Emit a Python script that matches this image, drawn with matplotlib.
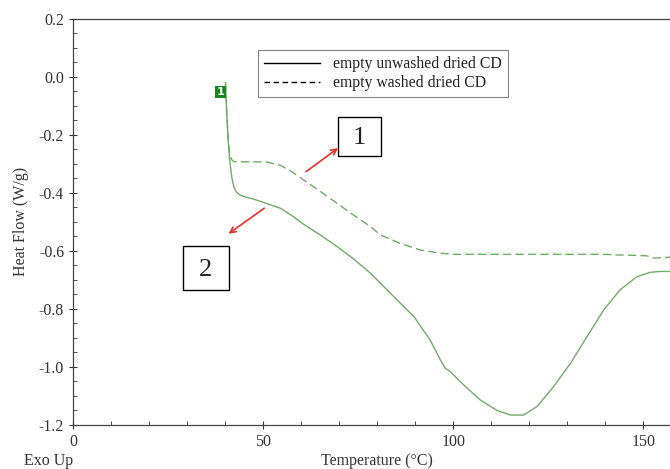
import matplotlib
matplotlib.use("Agg")
import matplotlib.pyplot as plt
from matplotlib.lines import Line2D
from matplotlib.patches import Rectangle
from matplotlib.ticker import MultipleLocator, FuncFormatter

plt.rcParams["font.family"] = ["Liberation Serif", "DejaVu Serif"]

# curve 2: empty unwashed dried CD
unwashed_T = [40.1, 40.4, 40.8, 41.3, 41.8, 42.3, 43.0, 44.0, 45.5, 47.0, 49.0, 51.0,
              54.5, 57.5, 60.6, 65.0, 69.4, 73.8, 78.2, 80.8, 85.2, 89.6, 93.9, 96.6,
              97.9, 99.2, 102.7, 107.1, 111.5, 115.0, 118.5, 122.0, 126.4, 130.8,
              135.2, 139.6, 143.9, 148.3, 151.8, 154.5, 157.0]
unwashed_HF = [-0.02, -0.12, -0.22, -0.30, -0.35, -0.38, -0.398, -0.408, -0.415, -0.42,
               -0.428, -0.437, -0.453, -0.478, -0.508, -0.545, -0.585, -0.628, -0.677,
               -0.711, -0.769, -0.826, -0.907, -0.976, -1.005, -1.016, -1.062, -1.114,
               -1.15, -1.166, -1.166, -1.137, -1.068, -0.988, -0.895, -0.803, -0.734,
               -0.689, -0.674, -0.671, -0.671]

# curve 1: empty washed dried CD
washed_T = [40.1, 40.4, 40.8, 41.2, 41.7, 42.2, 44.0, 47.0, 51.0, 54.5, 57.5, 60.6,
            65.0, 69.4, 73.8, 78.2, 80.8, 86.0, 91.3, 96.6, 100.0, 110.0, 120.0, 130.0,
            140.4, 142.2, 146.5, 150.9, 152.7, 157.0]
washed_HF = [-0.02, -0.12, -0.21, -0.265, -0.285, -0.292, -0.293, -0.293, -0.294, -0.305,
             -0.327, -0.355, -0.395, -0.436, -0.477, -0.516, -0.545, -0.574, -0.597,
             -0.608, -0.612, -0.612, -0.612, -0.612, -0.612, -0.614, -0.615, -0.617,
             -0.625, -0.622]

line_color = "#70ac68"
text_color = "#333333"

fig = plt.figure(figsize=(6.7, 4.69), dpi=100)
ax = fig.add_axes([0.109, 0.094, 0.891, 0.866])

ax.plot(unwashed_T, unwashed_HF, color=line_color, lw=1.0)
ax.plot(washed_T, washed_HF, color=line_color, lw=1.0, linestyle=(0, (6, 3)))

ax.set_xlim(0, 157)
ax.set_ylim(-1.2, 0.2)
ax.xaxis.set_major_locator(MultipleLocator(50))
ax.xaxis.set_minor_locator(MultipleLocator(10))
ax.yaxis.set_major_locator(MultipleLocator(0.2))
ax.yaxis.set_minor_locator(MultipleLocator(0.05))
ax.yaxis.set_major_formatter(FuncFormatter(lambda v, p: f"{v:.1f}"))
ax.tick_params(which="major", direction="inout", length=6, width=0.8,
               labelsize=11.5, colors=text_color, labelcolor=text_color)
ax.tick_params(which="minor", direction="in", length=3, width=0.6, colors=text_color)
ax.spines["right"].set_visible(False)
for s in ["left", "bottom", "top"]:
    ax.spines[s].set_color("#444444")
    ax.spines[s].set_linewidth(0.9)

ax.set_ylabel("Heat Flow (W/g)", fontsize=11.5, color=text_color, labelpad=7)
fig.text(0.563, 0.017, "Temperature (°C)", fontsize=11.5, color=text_color,
         ha="center", va="center")
fig.text(0.073, 0.017, "Exo Up", fontsize=11.5, color=text_color,
         ha="center", va="center")

# small green marker label
ax.text(38.8, -0.053, "1", fontsize=8, color="white", fontweight="bold",
        family="DejaVu Sans", ha="center", va="center",
        bbox=dict(boxstyle="square,pad=0.12", fc="#15871f", ec="none"))

handles = [Line2D([], [], color="black", lw=1.0),
           Line2D([], [], color="black", lw=1.0, linestyle=(0, (4, 2.5)))]
leg = ax.legend(handles, ["empty unwashed dried CD", "empty washed dried CD"],
                loc="upper right", bbox_to_anchor=(0.7286, 0.9236), borderaxespad=0,
                fontsize=11.3, frameon=True, fancybox=False, handlelength=3.6,
                borderpad=0.4, labelspacing=0.2, handletextpad=0.8)
leg.get_frame().set_edgecolor("#666666")
leg.get_frame().set_linewidth(0.8)
for t in leg.get_texts():
    t.set_color("#222222")

# numbered boxes with red arrows
ax.add_patch(Rectangle((69.7, -0.272), 11.35, 0.135, fc="white", ec="black", lw=1.0))
ax.text(75.4, -0.21, "1", fontsize=19, ha="center", va="center", color="#222222")
ax.add_patch(Rectangle((28.8, -0.734), 12.25, 0.149, fc="white", ec="black", lw=1.0))
ax.text(34.9, -0.665, "2", fontsize=19, ha="center", va="center", color="#222222")
ax.annotate("", xy=(69.7, -0.246), xytext=(61.3, -0.327),
            arrowprops=dict(arrowstyle="->", color="#e8302a", lw=1.2,
                            shrinkA=0, shrinkB=0))
ax.annotate("", xy=(40.9, -0.541), xytext=(50.3, -0.453),
            arrowprops=dict(arrowstyle="->", color="#e8302a", lw=1.2,
                            shrinkA=0, shrinkB=0))

fig.savefig("out.png", dpi=100)
